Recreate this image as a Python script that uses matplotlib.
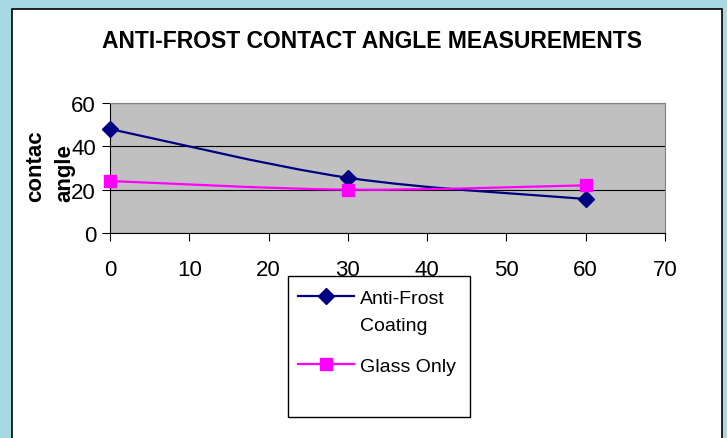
import matplotlib
matplotlib.use('Agg')
import matplotlib.pyplot as plt
from matplotlib.path import Path
from matplotlib.patches import PathPatch, Rectangle
from matplotlib.lines import Line2D

plt.rcParams['font.family'] = ['Liberation Sans', 'DejaVu Sans']

minutes = [0, 30, 60]
anti_frost = [48, 25.5, 15.7]
glass_only = [24, 20, 22]
series_names = ['Anti-Frost\nCoating', 'Glass Only']
x_ticks = [0, 10, 20, 30, 40, 50, 60, 70]
y_ticks = [0, 20, 40, 60]


def smooth_path(xs, ys):
    # bezier curve through the points, like Excel's "smoothed line"
    pts = list(zip(xs, ys))
    ext = [pts[0]] + pts + [pts[-1]]
    verts = [pts[0]]
    codes = [Path.MOVETO]
    for i in range(1, len(ext) - 2):
        p0, p1, p2, p3 = ext[i - 1], ext[i], ext[i + 1], ext[i + 2]
        c1 = (p1[0] + (p2[0] - p0[0]) / 6, p1[1] + (p2[1] - p0[1]) / 6)
        c2 = (p2[0] - (p3[0] - p1[0]) / 6, p2[1] - (p3[1] - p1[1]) / 6)
        verts += [c1, c2, p2]
        codes += [Path.CURVE4] * 3
    return Path(verts, codes)


fig = plt.figure(figsize=(7.27, 4.39), dpi=100)
fig.patch.set_facecolor('#a6d9e3')

# white chart area
fig.patches.append(Rectangle((12 / 727, -0.01), 710 / 727, 1 - 10 / 439 + 0.01,
                             transform=fig.transFigure, facecolor='white',
                             edgecolor='black', linewidth=1.2, zorder=-5))

ax = fig.add_axes([110 / 727, 1 - 234 / 439, 555 / 727, 130 / 439])
ax.set_zorder(1)
ax.set_facecolor('#c0c0c0')
ax.set_xlim(0, 70)
ax.set_ylim(0, 60)
ax.set_xticks(x_ticks)
ax.set_yticks(y_ticks)
ax.tick_params(axis='x', direction='out', length=6, pad=13, labelsize=16)
ax.tick_params(axis='y', direction='out', length=6, pad=4, labelsize=16)
for s in ['top', 'right']:
    ax.spines[s].set_color('#808080')
for s in ['left', 'bottom']:
    ax.spines[s].set_color('black')
ax.yaxis.grid(True, color='black', linewidth=0.8)
ax.set_axisbelow(True)

colors = ['#000080', '#ff00ff']
markers = ['D', 's']
msizes = [8, 8]
for ys, c, m, ms in zip([anti_frost, glass_only], colors, markers, msizes):
    ax.add_patch(PathPatch(smooth_path(minutes, ys), facecolor='none',
                           edgecolor=c, linewidth=1.6, zorder=3))
    ax.plot(minutes, ys, linestyle='none', marker=m, markersize=ms, color=c,
            zorder=4, clip_on=False)

fig.text(372 / 727, 1 - 42 / 439, 'ANTI-FROST CONTACT ANGLE MEASUREMENTS',
         ha='center', va='center', fontsize=16.5, fontweight='bold')

fig.text(36 / 727, 1 - 202 / 439, 'contac', rotation=90, ha='center',
         va='bottom', fontsize=16, fontweight='bold', zorder=3)
fig.text(65 / 727, 1 - 202 / 439, 'angle', rotation=90, ha='center',
         va='bottom', fontsize=16, fontweight='bold', zorder=3)

# legend box
fig.patches.append(Rectangle((288 / 727, 1 - 418 / 439), 182 / 727, 141 / 439,
                             transform=fig.transFigure, facecolor='white',
                             edgecolor='black', linewidth=1, zorder=5))
handles = [Line2D([], [], color=c, marker=m, markersize=ms, linewidth=1.6)
           for c, m, ms in zip(colors, markers, msizes)]
leg = fig.legend(handles, series_names, loc='upper left',
                 bbox_to_anchor=(280 / 727, 1 - 273 / 439), frameon=False,
                 fontsize=14, handlelength=2.9, handletextpad=0.3,
                 labelspacing=1.2)
for t in leg.get_texts():
    t.set_linespacing(1.8)
# first handle sits on the first line of its two-line label
first = leg.get_lines()[0]
first.set_ydata([y + 10.8 for y in first.get_ydata()])
leg.set_zorder(6)

fig.savefig('out.png', dpi=100, facecolor=fig.get_facecolor())
